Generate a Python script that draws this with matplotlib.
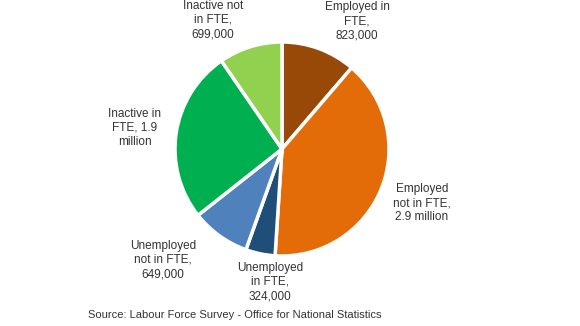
import matplotlib.pyplot as plt

# Labour market status of people in full-time education (thousands)
labels = ['Employed in\nFTE,\n823,000', 'Employed\nnot in FTE,\n2.9 million',
          'Unemployed\nin FTE,\n324,000', 'Unemployed\nnot in FTE,\n649,000',
          'Inactive in\nFTE, 1.9\nmillion', 'Inactive not\nin FTE,\n699,000']
values = [823, 2900, 324, 649, 1900, 699]
colors = ['#984807', '#E36C09', '#1F4E79', '#4F81BD', '#00B050', '#92D050']

# label centres in pixel coords (x, y from top)
label_pos = [(357, 21), (422, 203), (270, 282), (163, 260), (135, 128), (213, 20)]

W, H = 580, 326
fig = plt.figure(figsize=(W / 100, H / 100), dpi=100)
ax = fig.add_axes([0, 0, 1, 1])

ax.pie(values, colors=colors, startangle=90, counterclock=False,
       center=(282, H - 149), radius=107, frame=True,
       wedgeprops=dict(edgecolor='white', linewidth=2.5))
ax.set_xlim(0, W)
ax.set_ylim(0, H)
ax.set_aspect('equal')
ax.axis('off')

for lab, (x, y) in zip(labels, label_pos):
    ax.text(x, H - y, lab, ha='center', va='center', fontsize=8.5,
            family='Liberation Sans', color='#333333', linespacing=1.25)

ax.text(235, H - 315, 'Source: Labour Force Survey - Office for National Statistics',
        ha='center', va='center', fontsize=8, family='Liberation Sans', color='#333333')

fig.savefig('out.png', dpi=100)
